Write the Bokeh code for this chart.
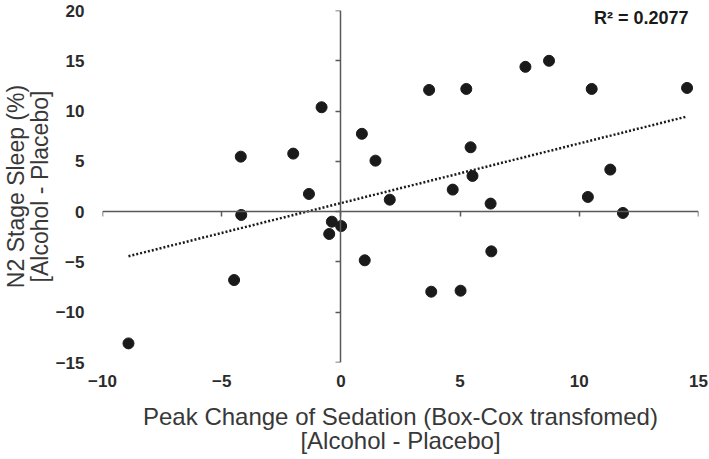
import numpy as np
from bokeh.plotting import figure
from bokeh.models import Range1d, LinearAxis, FixedTicker, Label
from bokeh.embed import file_html
from bokeh.resources import INLINE

# ---- data ----
sedation_change = [-8.91, -4.48, -4.20, -4.18, -2.00, -1.34, -0.81, -0.38, -0.49, 0.01,
                   0.88, 1.45, 2.05, 3.70, 4.69, 5.26, 5.44, 5.52, 6.28, 7.74,
                   8.73, 10.36, 10.52, 11.30, 11.83, 14.52, 1.00, 3.79, 5.02, 6.31]
n2_change = [-13.1, -6.8, 5.47, -0.33, 5.77, 1.76, 10.38, -1.0, -2.22, -1.43,
             7.74, 5.07, 1.19, 12.1, 2.19, 12.2, 6.4, 3.55, 0.8, 14.4,
             15.0, 1.46, 12.2, 4.18, -0.13, 12.3, -4.84, -7.96, -7.86, -3.95]
x_ticks = [-10, -5, 0, 5, 10, 15]
y_ticks = [-15, -10, -5, 0, 5, 10, 15, 20]
r2_text = "R\u00b2 = 0.2077"
x_title = "Peak Change of Sedation (Box-Cox transfomed)\n[Alcohol - Placebo]"
y_title = "N2 Stage Sleep (%)\n[Alcohol - Placebo]"

FONT = "Liberation Sans"
TEXT = "#383838"
DARK = "#1a1a1a"
AXIS = "#595959"

x0, x1 = x_ticks[0], x_ticks[-1]
y0, y1 = y_ticks[0], y_ticks[-1]

p = figure(width=709, height=459, output_backend="svg", toolbar_location=None,
           x_range=Range1d(x0, x1), y_range=Range1d(y0, y1),
           min_border_left=102, min_border_right=11, min_border_top=10, min_border_bottom=97)
p.outline_line_color = None
p.grid.visible = False
p.background_fill_color = "white"
p.border_fill_color = "white"

# main axes: tick labels and titles only
for ax, ticks in ((p.xaxis[0], x_ticks), (p.yaxis[0], y_ticks)):
    ax.ticker = FixedTicker(ticks=ticks)
    ax.axis_line_color = None
    ax.major_tick_line_color = None
    ax.minor_tick_line_color = None
    ax.major_tick_in = 0
    ax.major_tick_out = 0
    ax.major_label_text_font = FONT
    ax.major_label_text_font_style = "bold"
    ax.major_label_text_font_size = "17px"
    ax.major_label_text_color = "#2b2b2b"
    ax.axis_label_text_font = FONT
    ax.axis_label_text_font_style = "normal"
    ax.axis_label_text_color = TEXT
    ax.axis_label_text_line_height = 0.9

p.xaxis[0].axis_label = x_title
p.xaxis[0].axis_label_text_font_size = "24px"
p.xaxis[0].major_label_standoff = 12
p.xaxis[0].axis_label_standoff = 13
p.yaxis[0].axis_label = y_title
p.yaxis[0].axis_label_text_font_size = "23px"
p.yaxis[0].major_label_standoff = 18
p.yaxis[0].axis_label_standoff = 0

# axis lines crossing at zero
x_zero = LinearAxis(fixed_location=0, ticker=FixedTicker(ticks=x_ticks))
y_zero = LinearAxis(fixed_location=0, ticker=FixedTicker(ticks=y_ticks))
for ax in (x_zero, y_zero):
    ax.axis_line_color = AXIS
    ax.axis_line_width = 1.5
    ax.major_tick_line_color = AXIS
    ax.major_tick_line_width = 1.5
    ax.minor_tick_line_color = None
    ax.major_tick_in = 5
    ax.major_tick_out = 0
    ax.major_label_text_font_size = "0px"
    ax.major_label_text_color = None
    ax.major_label_standoff = 0
    ax.axis_label_standoff = 0
p.add_layout(x_zero, "above")
p.add_layout(y_zero, "right")

# trendline (least squares from the data)
xs = np.array(sedation_change)
ys = np.array(n2_change)
slope, intercept = np.polyfit(xs, ys, 1)
tx = np.array([xs.min(), xs.max()])
p.line(tx, slope * tx + intercept, line_color=DARK, line_width=2.5, line_dash="2 2")

p.scatter(sedation_change, n2_change, size=11, color=DARK)

p.add_layout(Label(x=x1, y=y1, text=r2_text, text_align="right",
                   text_baseline="top", x_offset=-10, y_offset=3,
                   text_font=FONT, text_font_style="bold", text_font_size="18px",
                   text_color=DARK))

open("out.html", "w").write(file_html(p, INLINE))
